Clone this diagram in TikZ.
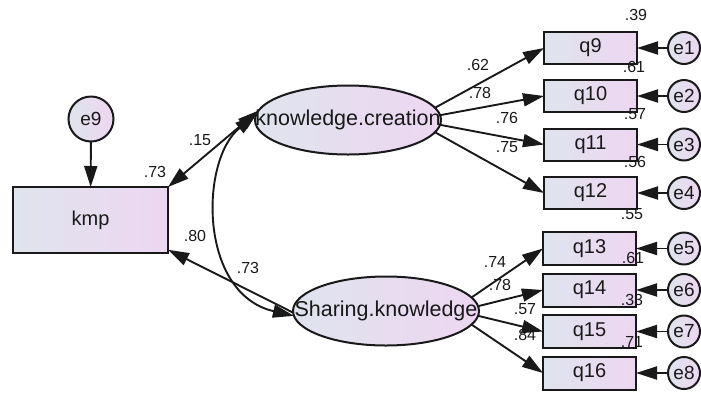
\documentclass[tikz,border=0pt]{standalone}
\usepackage{fontspec}
\setmainfont{Liberation Sans}
\usetikzlibrary{shapes.geometric,arrows.meta,calc}
\definecolor{shadeL}{RGB}{223,228,238}
\definecolor{shadeR}{RGB}{237,214,241}
\definecolor{inkc}{RGB}{25,25,25}
\begin{document}
\begin{tikzpicture}[x=1pt,y=-1pt,
  every node/.style={inner sep=0pt,outer sep=0pt,text=inkc},
  fillshade/.style={draw=inkc,line width=2pt,left color=shadeL,right color=shadeR},
  obsbox/.style={fillshade,rectangle,minimum width=93pt,minimum height=32pt,font=\fontsize{20}{20}\selectfont},
  latent/.style={fillshade,ellipse,minimum width=186pt,minimum height=69pt,font=\fontsize{21.5}{21.5}\selectfont},
  errc/.style={fillshade,circle,minimum size=32pt,font=\fontsize{19}{19}\selectfont},
  coef/.style={font=\fontsize{16}{16}\selectfont,text=inkc},
  tip/.tip={Triangle[length=21pt,width=13pt]},
  path/.style={draw=inkc,line width=1.9pt,-tip},
  both/.style={draw=inkc,line width=1.9pt,tip-tip}]
\useasboundingbox (0,0) rectangle (701,392);

% outcome and its error term
\node[fillshade,rectangle,minimum width=155pt,minimum height=66pt,font=\fontsize{20}{20}\selectfont] (kmp) at (90.5,220) {kmp};
\node[errc,minimum size=45pt] (e9) at (91,119) {e9};

% latent factors
\node[latent] (KC) at (348,120) {\makebox[0pt]{knowledge.creation}};
\node[latent] (SK) at (386,311) {\makebox[0pt]{Sharing.knowledge}};

% indicators of knowledge.creation
\node[obsbox] (q9)  at (590.5,48)  {q9};
\node[obsbox] (q10) at (590.5,96)  {q10};
\node[obsbox] (q11) at (590.5,144.5) {q11};
\node[obsbox] (q12) at (590.5,193) {q12};
% indicators of Sharing.knowledge
\node[obsbox,minimum height=33pt] (q13) at (589.5,248.5) {q13};
\node[obsbox,minimum height=33pt] (q14) at (589.5,290) {q14};
\node[obsbox,minimum height=33pt] (q15) at (589.5,331.5) {q15};
\node[obsbox,minimum height=33pt] (q16) at (589.5,373) {q16};

% measurement errors
\foreach \e/\y in {e1/48,e2/96,e3/144.5,e4/193,e5/248.5,e6/290,e7/331.5,e8/373}
  \node[errc] (\e) at (684,\y) {\e};

% error arrows
\draw[path] (e9) -- (kmp);
\foreach \e/\q in {e1/q9,e2/q10,e3/q11,e4/q12,e5/q13,e6/q14,e7/q15,e8/q16}
  \draw[path] (\e) -- (\q);

% loadings
\draw[path] (KC.8)  -- (q9.west);
\draw[path] (KC.3)  -- (q10.west);
\draw[path] (KC.-3) -- (q11.west);
\draw[path] (KC.-8) -- (q12.west);
\draw[path] (SK.9)  -- (q13.west);
\draw[path] (SK.3)  -- (q14.west);
\draw[path] (SK.-3) -- (q15.west);
\draw[path] (SK.-9) -- (q16.west);

% structural part
\draw[both] (kmp.north east) -- (KC.174);
\draw[path] (SK.181) -- (kmp.-21);
\draw[both] (KC.177) .. controls +(-56,44) and +(-96,-22) .. (SK.183);

% coefficients
\node[coef] (c1)  at (200,140) {.15};
\node[coef] (c2)  at (155,172) {.73};
\node[coef] (c3)  at (195,236) {.80};
\node[coef] (c4)  at (248,268) {.73};
\node[coef] (c5)  at (478,65)  {.62};
\node[coef] (c6)  at (480,93)  {.78};
\node[coef] (c7)  at (507,118) {.76};
\node[coef] (c8)  at (507,147) {.75};
\node[coef] (c9)  at (636,15)  {.39};
\node[coef] (c10) at (634,67)  {.61};
\node[coef] (c11) at (635,114) {.57};
\node[coef] (c12) at (635,162) {.56};
\node[coef] (c13) at (632,214) {.55};
\node[coef] (c14) at (495,262) {.74};
\node[coef] (c15) at (500,285) {.78};
\node[coef] (c16) at (525,309) {.57};
\node[coef] (c17) at (525,335) {.84};
\node[coef] (c18) at (633,258) {.61};
\node[coef] (c19) at (632,300) {.33};
\node[coef] (c20) at (632,342) {.71};
\end{tikzpicture}
\end{document}
